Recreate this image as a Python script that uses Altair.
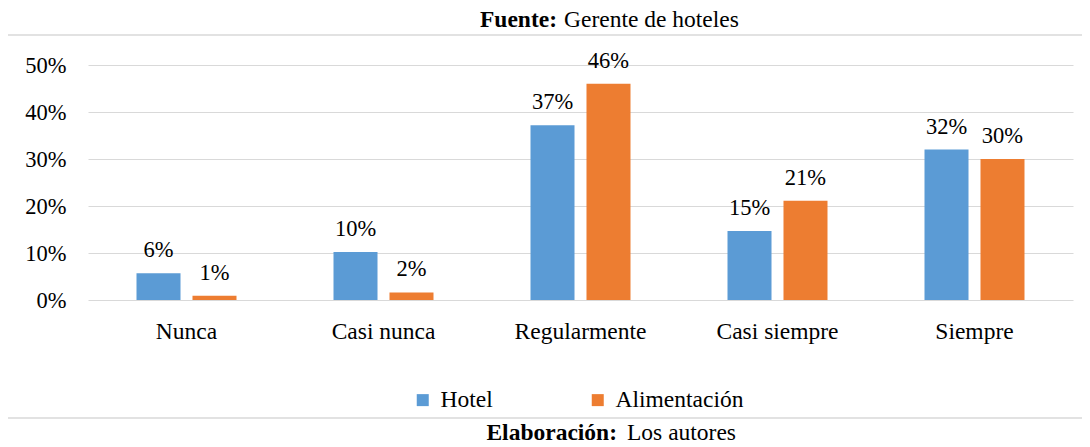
import altair as alt
import pandas as pd

categories = ["Nunca", "Casi nunca", "Regularmente", "Casi siempre", "Siempre"]
series = ["Hotel", "Alimentación"]
hotel = [0.057, 0.102, 0.372, 0.147, 0.320]
alimentacion = [0.009, 0.016, 0.460, 0.211, 0.300]
y_ticks = [0, 0.1, 0.2, 0.3, 0.4, 0.5]
colors = ["#5B9BD5", "#ED7D31"]

title_bold = "Fuente:"
title_rest = "Gerente de hoteles"
foot_bold = "Elaboración:"
foot_rest = "Los autores"

FONT = "Liberation Serif"
FS_NUM = 22.5
FS_TXT = 23.5

rows = []
for c, h, a in zip(categories, hotel, alimentacion):
    rows.append({"cat": c, "serie": series[0], "val": h})
    rows.append({"cat": c, "serie": series[1], "val": a})
df = pd.DataFrame(rows)

x = alt.X("cat:N", sort=categories, title=None,
          scale=alt.Scale(paddingInner=0.4924, paddingOuter=0.2462),
          axis=alt.Axis(labelAngle=0, domain=False, ticks=False, grid=False,
                        labelFont=FONT, labelFontSize=FS_TXT, labelColor="black",
                        labelPadding=19))
xo = alt.XOffset("serie:N", sort=series,
                 scale=alt.Scale(paddingInner=0.214, paddingOuter=0))
y = alt.Y("val:Q", title=None, scale=alt.Scale(domain=[0, 0.5], nice=False),
          axis=alt.Axis(values=y_ticks, format=".0%", domain=False, ticks=False,
                        grid=True, gridColor="#D9D9D9", gridWidth=1.2,
                        labelFont=FONT, labelFontSize=FS_NUM, labelColor="black",
                        labelPadding=22))

base = alt.Chart(df)
bars = base.mark_bar().encode(
    x=x, xOffset=xo, y=y,
    color=alt.Color("serie:N", sort=series,
                    scale=alt.Scale(domain=series, range=colors),
                    legend=alt.Legend(title=None, orient="none", legendX=323, legendY=323,
                                      direction="horizontal", symbolType="square",
                                      symbolSize=144, symbolStrokeWidth=0,
                                      labelFont=FONT, labelFontSize=FS_TXT, labelColor="black",
                                      columnPadding=93, labelOffset=6, padding=0)),
)
labels = base.mark_text(baseline="alphabetic", dy=-16, font=FONT, fontSize=FS_NUM,
                        color="black").encode(
    x=alt.X("cat:N", sort=categories), xOffset=alt.XOffset("serie:N", sort=series),
    y="val:Q", text=alt.Text("val:Q", format=".0%"),
)

one = pd.DataFrame({"k": [0]})
frame_col = "#D9D9D9"
top_line = alt.Chart(one).mark_rule(color=frame_col, strokeWidth=1.5).encode(
    x=alt.value(-81), x2=alt.value(1010), y=alt.value(-30))
bottom_line = alt.Chart(one).mark_rule(color=frame_col, strokeWidth=1.5).encode(
    x=alt.value(-81), x2=alt.value(1010), y=alt.value(353))
left_line = alt.Chart(one).mark_rule(color=frame_col, strokeWidth=1.5).encode(
    x=alt.value(-81), y=alt.value(-30), y2=alt.value(353))

def txt(s, xp, yp, align, bold):
    return alt.Chart(one).mark_text(
        font=FONT, fontSize=FS_TXT, color="black", align=align, baseline="alphabetic",
        fontWeight="bold" if bold else "normal").encode(
        x=alt.value(xp), y=alt.value(yp), text=alt.value(s))

t1 = txt(title_bold, 469, -38, "right", True)
t2 = txt(title_rest, 476, -38, "left", False)
f1 = txt(foot_bold, 529, 375, "right", True)
f2 = txt(foot_rest, 539, 375, "left", False)

chart = alt.layer(top_line, bottom_line, left_line, bars, labels, t1, t2, f1, f2).properties(
    width=985, height=235,
    autosize=alt.AutoSizeParams(type="none"),
    padding={"left": 80, "top": 57, "right": 9, "bottom": 147},
).configure(font=FONT).configure_view(stroke=None)

chart.save("out.html", embed_options={"renderer": "svg", "actions": False})
